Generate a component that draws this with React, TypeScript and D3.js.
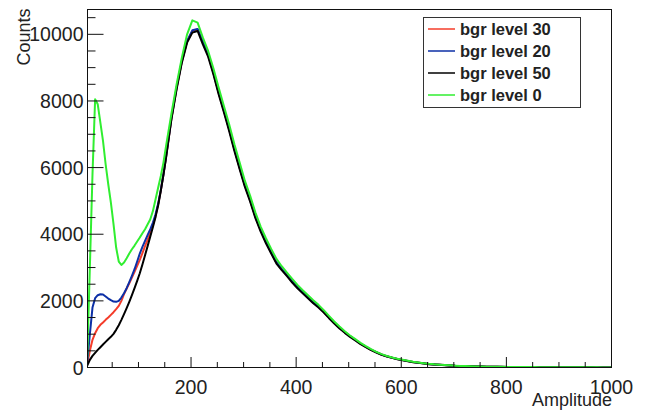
import React from 'react';
import * as d3 from 'd3';

// Bin centres: 5-unit spacing in the low region, 10-unit spacing above
const AMP_LOW = d3.range(2.5, 155, 5);
const AMP_HIGH = d3.range(162.5, 1005, 10);
const AMPLITUDE = [...AMP_LOW, ...AMP_HIGH];

const BGR30 = [
  100, 500, 830, 1030, 1180, 1280, 1350, 1430, 1500, 1580, 1660, 1750, 1850, 2000, 2200, 2370,
  2530, 2700, 2870, 3050, 3230, 3430, 3640, 3840, 4050, 4280, 4550, 4900, 5320, 5800, 6320,
  7450, 8380, 9180, 9790, 10100, 10150, 9760, 9380, 8850, 8250,
  7710, 7150, 6550, 5990, 5460, 5020, 4520, 4120, 3770, 3450,
  3150, 2950, 2770, 2580, 2410, 2260, 2100, 1960, 1820, 1670,
  1500, 1340, 1190, 1060, 940, 830, 715, 620, 530, 460,
  390, 335, 295, 255, 225, 195, 165, 145, 125, 105,
  92, 82, 72, 62, 52, 46, 41, 36, 31, 29,
  26, 23, 21, 19, 17, 15, 14, 13, 12, 11,
  10, 9, 8, 8, 7, 6, 6, 5, 5, 4,
  4, 3, 3, 2, 2,
];

const BGR20 = [
  150, 1000, 1800, 2080, 2170, 2200, 2190, 2130, 2070, 2020, 1980, 1970, 2000, 2100, 2230, 2380,
  2560, 2750, 2950, 3180, 3420, 3620, 3800, 3980, 4150, 4350, 4600, 4920, 5330, 5800, 6330,
  7470, 8400, 9200, 9800, 10120, 10160, 9780, 9400, 8860, 8260,
  7720, 7160, 6560, 6000, 5470, 5030, 4530, 4130, 3780, 3460,
  3160, 2960, 2770, 2590, 2420, 2260, 2110, 1960, 1830, 1680,
  1510, 1350, 1200, 1060, 940, 830, 720, 625, 535, 460,
  390, 340, 295, 255, 225, 195, 165, 145, 125, 105,
  92, 82, 72, 62, 52, 46, 41, 36, 31, 29,
  26, 23, 21, 19, 17, 15, 14, 13, 12, 11,
  10, 9, 8, 8, 7, 6, 6, 5, 5, 4,
  4, 3, 3, 2, 2,
];

const BGR50 = [
  60, 230, 350, 440, 530, 610, 690, 770, 850, 920, 1010, 1130, 1270, 1430, 1600, 1780,
  1970, 2170, 2380, 2600, 2830, 3090, 3370, 3650, 3930, 4220, 4520, 4870, 5300, 5780, 6300,
  7430, 8350, 9150, 9750, 10050, 10100, 9700, 9330, 8800, 8200,
  7660, 7100, 6500, 5950, 5420, 4980, 4480, 4080, 3730, 3420,
  3120, 2920, 2740, 2550, 2380, 2230, 2080, 1930, 1800, 1650,
  1480, 1320, 1170, 1040, 920, 810, 700, 610, 520, 450,
  380, 330, 290, 250, 220, 190, 160, 140, 120, 100,
  90, 80, 70, 60, 50, 45, 40, 35, 30, 28,
  25, 22, 20, 18, 16, 15, 14, 13, 12, 11,
  10, 9, 8, 8, 7, 6, 6, 5, 5, 4,
  4, 3, 3, 2, 2,
];

const BGR0 = [
  300, 3000, 5800, 8050, 7900, 7350, 6800, 6100, 5500, 4950, 4300, 3600, 3180, 3080, 3150, 3280,
  3420, 3550, 3660, 3780, 3900, 4030, 4150, 4300, 4450, 4700, 5050, 5400, 5750, 6150, 6650,
  7600, 8500, 9300, 10000, 10420, 10350, 9900, 9500, 8980, 8400,
  7850, 7300, 6700, 6150, 5600, 5150, 4650, 4230, 3880, 3560,
  3260, 3040, 2850, 2660, 2480, 2320, 2170, 2020, 1880, 1720,
  1550, 1380, 1230, 1090, 960, 850, 740, 640, 550, 470,
  400, 345, 300, 260, 230, 200, 170, 150, 130, 110,
  95, 85, 75, 65, 55, 48, 42, 37, 32, 29,
  26, 23, 21, 19, 17, 16, 15, 14, 13, 12,
  11, 10, 9, 8, 8, 7, 6, 6, 5, 5,
  4, 4, 3, 3, 2,
];

const SERIES_NAMES = ['bgr level 30', 'bgr level 20', 'bgr level 50', 'bgr level 0'];
const SERIES_COLORS = ['#f43c2a', '#0c2fa6', '#000000', '#30ee30'];
const SERIES_VALUES = [BGR30, BGR20, BGR50, BGR0];

const X_MAJOR = [200, 400, 600, 800, 1000];
const Y_MAJOR = [0, 2000, 4000, 6000, 8000, 10000];
const X_LABEL = 'Amplitude';
const Y_LABEL = 'Counts';

const FONT = "'Liberation Sans', Arial, Helvetica, sans-serif";

export default function App() {
  const W = 653;
  const H = 412;
  const left = 87.5, right = 611.5, top = 9.5, bottom = 367.5;
  const x = d3.scaleLinear().domain([3, 1000]).range([left, right]);
  const y = d3.scaleLinear().domain([0, 10745]).range([bottom, top]);

  const xMinor = d3.range(50, 1001, 50).filter((v) => v % 200 !== 0);
  const yMinor = d3.range(500, 10745, 500).filter((v) => v % 2000 !== 0);

  const line = d3
    .line<[number, number]>()
    .x((d) => x(d[0]))
    .y((d) => y(d[1]));

  const legendX = 423.5, legendY = 17.5, legendW = 157, legendH = 90;
  const rowY = [29, 51, 73, 95];

  return (
    <svg
      width={W}
      height={H}
      viewBox={`0 0 ${W} ${H}`}
      style={{ position: 'absolute', left: 0, top: 0, display: 'block', background: '#fff' }}
    >
      <defs>
        <clipPath id="plotclip">
          <rect x={left} y={top - 1} width={right - left} height={bottom - top + 1} />
        </clipPath>
      </defs>
      <rect x={0} y={0} width={W} height={H} fill="#fff" />

      <g clipPath="url(#plotclip)">
        {SERIES_VALUES.map((vals, i) => (
          <path
            key={SERIES_NAMES[i]}
            d={line(AMPLITUDE.map((a, j) => [a, vals[j]] as [number, number])) || ''}
            fill="none"
            stroke={SERIES_COLORS[i]}
            strokeWidth={2}
            strokeLinejoin="round"
          />
        ))}
      </g>

      {/* frame */}
      <rect x={left} y={top} width={right - left} height={bottom - top} fill="none" stroke="#111" strokeWidth={1} />

      {/* x ticks */}
      {X_MAJOR.map((v) => (
        <line key={'xM' + v} x1={x(v)} x2={x(v)} y1={bottom} y2={bottom - 10.5} stroke="#111" strokeWidth={1} />
      ))}
      {xMinor.map((v) => (
        <line key={'xm' + v} x1={x(v)} x2={x(v)} y1={bottom} y2={bottom - 5.5} stroke="#111" strokeWidth={1} />
      ))}
      {X_MAJOR.map((v) => (
        <text key={'xl' + v} x={x(v)} y={394} textAnchor="middle" fontFamily={FONT} fontSize={19.5} fill="#222">
          {v}
        </text>
      ))}

      {/* y ticks */}
      {Y_MAJOR.map((v) => (
        <line key={'yM' + v} x1={left} x2={left + 16} y1={y(v)} y2={y(v)} stroke="#111" strokeWidth={1} />
      ))}
      {yMinor.map((v) => (
        <line key={'ym' + v} x1={left} x2={left + 8} y1={y(v)} y2={y(v)} stroke="#111" strokeWidth={1} />
      ))}
      {Y_MAJOR.map((v) => (
        <text key={'yl' + v} x={83.5} y={y(v) + 7} textAnchor="end" fontFamily={FONT} fontSize={19.5} fill="#222">
          {v}
        </text>
      ))}

      {/* axis titles */}
      <text x={612} y={406} textAnchor="end" fontFamily={FONT} fontSize={18} fill="#222">
        {X_LABEL}
      </text>
      <text
        transform="translate(30,8.5) rotate(-90)"
        textAnchor="end"
        fontFamily={FONT}
        fontSize={18}
        fill="#222"
      >
        {Y_LABEL}
      </text>

      {/* legend */}
      <rect x={legendX} y={legendY} width={legendW} height={legendH} fill="#fff" stroke="#333" strokeWidth={1} />
      {SERIES_NAMES.map((name, i) => (
        <g key={'lg' + name}>
          <line x1={428} x2={455} y1={rowY[i]} y2={rowY[i]} stroke={SERIES_COLORS[i]} strokeWidth={1.5} />
          <text x={460} y={rowY[i] + 6} fontFamily={FONT} fontSize={16.5} fontWeight="bold" fill="#222">
            {name}
          </text>
        </g>
      ))}
    </svg>
  );
}
